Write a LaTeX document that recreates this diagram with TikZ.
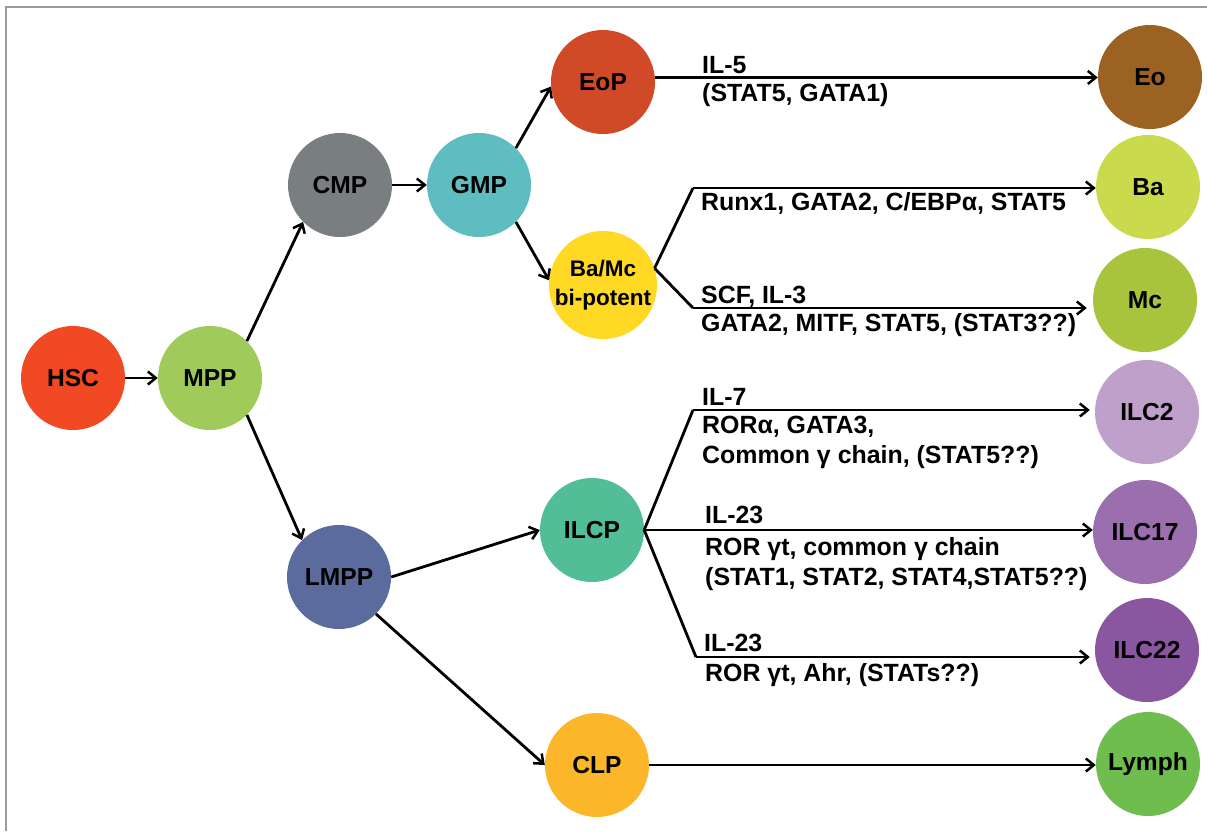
\documentclass[tikz,border=0pt]{standalone}
\usepackage{fontspec}
\setmainfont{Liberation Sans}
\usetikzlibrary{arrows.meta}
\definecolor{cHSC}{HTML}{F04923}
\definecolor{cMPP}{HTML}{A0CB5A}
\definecolor{cCMP}{HTML}{797E80}
\definecolor{cGMP}{HTML}{5DBDC1}
\definecolor{cEoP}{HTML}{D04A28}
\definecolor{cBaMc}{HTML}{FFD924}
\definecolor{cEo}{HTML}{9B6222}
\definecolor{cBa}{HTML}{C9DB4C}
\definecolor{cMc}{HTML}{A8C43C}
\definecolor{cILCa}{HTML}{BFA0CB}
\definecolor{cILCb}{HTML}{9B6EAE}
\definecolor{cILCc}{HTML}{8B56A0}
\definecolor{cLymph}{HTML}{6FBD4F}
\definecolor{cLMPP}{HTML}{5B6B9E}
\definecolor{cILCP}{HTML}{52BE98}
\definecolor{cCLP}{HTML}{FBB62A}
\definecolor{frame}{HTML}{9A9A9A}
\begin{document}
\begin{tikzpicture}[x=1pt,y=-1pt,
  cell/.style={circle, fill=#1, draw=none, minimum size=104pt, inner sep=0pt,
    font=\fontsize{24.6}{26}\selectfont\bfseries},
  lab/.style={anchor=base west, inner sep=0pt, font=\fontsize{24.9}{30}\selectfont\bfseries},
  conn/.style={line width=2.8pt, -{Straight Barb[length=8pt,width=13pt,line width=2.5pt]}},
  seg/.style={line width=2.8pt, line join=miter}]
\useasboundingbox (0,0) rectangle (1207,831);
\fill[white] (0,0) rectangle (1207,831);
\draw[frame, line width=1.6pt] (6,831) -- (6,7) -- (1207,7);

% cells
\node[cell=cHSC]  (hsc)  at (73,378)  {HSC};
\node[cell=cMPP]  (mpp)  at (210,378) {MPP};
\node[cell=cCMP]  (cmp)  at (340,185) {CMP};
\node[cell=cGMP]  (gmp)  at (479,185) {GMP};
\node[cell=cEoP]  (eop)  at (603,82)  {EoP};
\node[cell=cBaMc, align=center, font=\fontsize{22.5}{29}\selectfont\bfseries] (bamc) at (603,285) {Ba/Mc\\bi-potent};
\node[cell=cLMPP] (lmpp) at (339,577) {LMPP};
\node[cell=cILCP] (ilcp) at (592,530) {ILCP};
\node[cell=cCLP]  (clp)  at (597,765) {CLP};
\node[cell=cEo]    (eo)    at (1150,77)  {Eo};
\node[cell=cBa]    (ba)    at (1148,187) {Ba};
\node[cell=cMc]    (mc)    at (1145,300) {Mc};
\node[cell=cILCa]  (ilcii)   at (1147,412) {ILC2};
\node[cell=cILCb]  (ilcxvii) at (1145,532) {ILC17};
\node[cell=cILCc]  (ilcxxii) at (1147,650) {ILC22};
\node[cell=cLymph] (lymph) at (1148,764) {Lymph};

% bend points
\coordinate (bkba)  at (693,188);
\coordinate (bkmc)  at (693,308);
\coordinate (bkii)  at (693,410);
\coordinate (bkxxii) at (696,657);

% connectors
\draw[conn] (hsc.east) -- (mpp.west);
\draw[conn] (mpp.45) -- (cmp.-135);
\draw[conn] (mpp.-45) -- (lmpp.135);
\draw[conn] (cmp.east) -- (gmp.west);
\draw[conn] (gmp.45) -- (eop.185);
\draw[conn] (gmp.-45) -- (bamc.175);
\draw[conn] (eop.5) -- (eop.5 -| eo.west);
\draw[seg] (bamc.18) -- (bkba);
\draw[conn] (bkba) -- (bkba -| ba.west);
\draw[seg] (bamc.18) -- (bkmc);
\draw[conn, shorten >=6pt] (bkmc) -- (bkmc -| mc.west);
\draw[conn] (lmpp.east) -- (ilcp.west);
\draw[conn] (lmpp.-45) -- (clp.west);
\draw[seg] (ilcp.east) -- (bkii);
\draw[conn, shorten >=5pt] (bkii) -- (bkii -| ilcii.west);
\draw[conn] (ilcp.east) -- (ilcp.east -| ilcxvii.west);
\draw[seg] (ilcp.east) -- (bkxxii);
\draw[conn, shorten >=5pt] (bkxxii) -- (bkxxii -| ilcxxii.west);
\draw[conn] (clp.east) -- (clp.east -| lymph.west);

% labels
\node[lab] (l1)  at (702,73.5)  {IL-5};
\node[lab] (l2)  at (702,101.5) {(STAT5, GATA1)};
\node[lab] (l3)  at (701,210.5) {Runx1, GATA2, C/EBPα, STAT5};
\node[lab] (l4)  at (701,303.5) {SCF, IL-3};
\node[lab] (l5)  at (701,331.5) {GATA2, MITF, STAT5, (STAT3??)};
\node[lab] (l6)  at (702,405)   {IL-7};
\node[lab] (l7)  at (702,433.5) {RORα, GATA3,};
\node[lab] (l8)  at (702,463.5) {Common γ chain, (STAT5??)};
\node[lab] (l9)  at (705,523.5) {IL-23};
\node[lab] (l10) at (705,555)   {ROR γt, common γ chain};
\node[lab] (l11) at (705,585)   {(STAT1, STAT2, STAT4,STAT5??)};
\node[lab] (l12) at (704,651.5) {IL-23};
\node[lab] (l13) at (705,681.5) {ROR γt, Ahr, (STATs??)};
\end{tikzpicture}
\end{document}
